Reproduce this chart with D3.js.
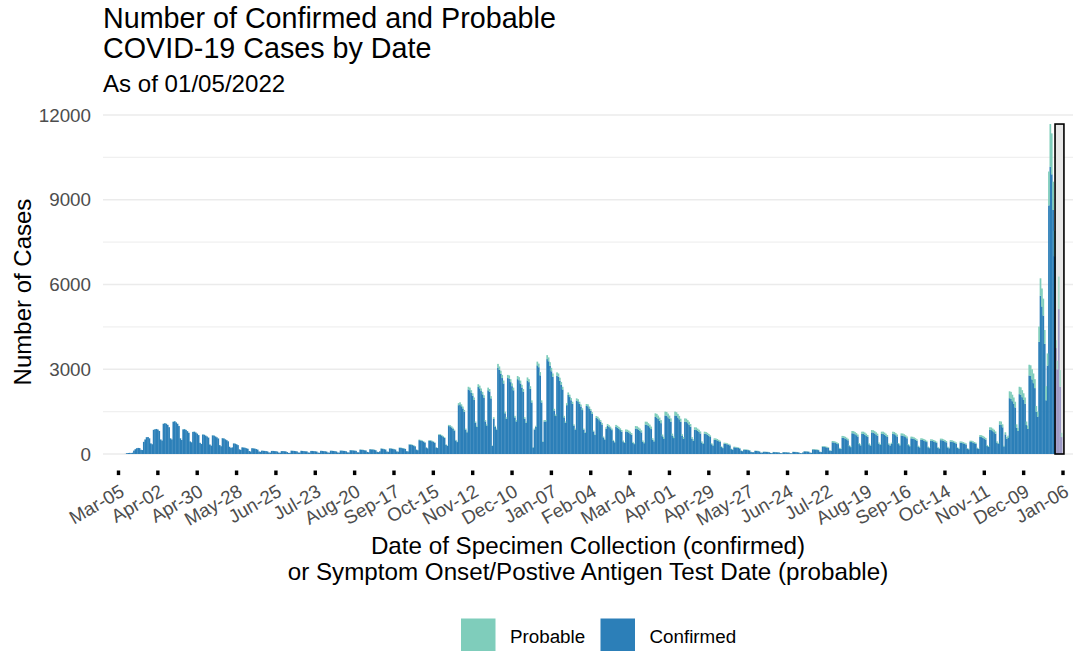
<!DOCTYPE html>
<html><head><meta charset="utf-8">
<script src="https://cdn.jsdelivr.net/npm/d3@7"></script>
<style>body{margin:0;background:#fff}svg{display:block}text{font-family:"Liberation Sans",Arial,Helvetica,sans-serif}</style>
</head><body><svg id="chart" width="1078" height="651"></svg>
<script>
// ---------- DATA ----------
const startDate = "2020-03-05"; // first day of the daily series (Thursday)
// daily confirmed cases, listed in Monday-start weeks (first line: Thu Mar 5 - Sun Mar 8, 2020)
const confirmed = [
0,0,0,0,
0,5,30,35,40,30,45,
120,170,205,215,210,150,140,
430,515,595,600,555,375,345,
855,875,885,865,815,515,475,
1070,1090,1070,1030,950,555,515,
1140,1160,1120,1070,990,555,495,
870,880,850,810,750,445,415,
780,790,760,720,670,395,355,
690,680,650,620,580,335,295,
660,650,620,590,550,315,275,
560,550,520,490,450,255,215,
235,375,365,345,315,165,145,
235,230,220,205,185,105,88,
205,200,190,175,155,88,78,
118,113,108,103,93,54,49,
108,108,103,98,88,49,44,
103,103,98,93,68,39,39,
117,112,107,102,92,53,48,
112,107,102,97,92,53,48,
107,107,102,97,87,48,43,
112,107,102,97,87,53,48,
116,111,106,101,91,53,48,
121,116,111,106,96,58,53,
135,130,125,120,110,62,57,
154,149,144,134,125,72,62,
168,163,158,149,134,77,67,
96,192,182,172,158,86,77,
197,192,182,172,158,91,81,
221,216,206,197,177,101,91,
336,331,317,297,273,154,134,
490,480,461,437,403,230,202,
470,475,451,432,394,230,211,
672,672,643,614,566,326,288,
989,979,941,893,826,480,422,
1728,1757,1690,1613,1498,864,768,
2285,2256,2170,2064,1920,1104,960,
2371,2323,2227,2112,1997,1152,1008,
2256,2208,1968,288,1248,960,864,
3062,2976,2832,2688,2496,1440,1248,
2688,2669,2544,2400,2256,1296,1152,
2650,2611,2496,2352,2208,1248,1104,
2602,2544,2304,1824,230,864,960,
3139,3072,2784,1824,432,1152,1152,
3360,3283,3120,2928,2736,1536,1344,
2774,2736,2592,2448,2285,1296,1104,
1728,2093,2016,1901,1776,1008,864,
1891,1862,1776,1680,1555,864,749,
1699,1690,1613,1526,1421,797,672,
1278,1254,1197,1140,1045,589,513,
893,996,959,912,846,470,414,
958,930,893,846,791,446,391,
800,791,764,727,681,396,350,
901,892,855,819,764,437,382,
1042,1037,992,946,883,510,446,
1310,1292,1238,1174,1092,628,546,
1365,1356,1301,1238,1147,655,564,
1365,1347,1292,1229,1138,637,546,
1147,1138,1092,1037,965,546,473,
860,855,819,783,728,410,355,
719,710,683,646,601,346,300,
505,501,482,455,428,246,209,
364,359,346,328,305,173,150,
237,232,223,214,196,114,100,
150,150,146,137,127,73,64,
64,109,107,102,91,50,46,
77,75,73,69,64,36,32,
68,66,64,60,55,32,27,
64,64,60,56,53,29,25,
73,71,68,66,55,32,27,
55,95,91,87,82,47,41,
161,159,153,146,137,77,68,
255,252,243,230,216,122,108,
414,410,396,374,351,198,176,
576,572,549,522,486,279,243,
734,729,702,666,621,351,306,
711,711,684,648,603,342,297,
765,756,729,693,648,369,320,
711,711,684,648,603,342,297,
360,711,702,666,621,351,306,
657,653,630,599,558,315,275,
554,549,531,504,468,266,234,
500,495,477,455,423,239,207,
468,464,446,423,396,225,194,
491,486,468,446,414,234,203,
441,437,419,396,369,212,185,
401,396,378,360,338,189,167,
423,423,405,383,360,203,176,
603,599,576,549,513,288,252,
851,846,810,774,720,405,356,
1044,1035,945,270,693,540,585,
1976,1958,1869,1780,1647,935,819,
2118,2100,2011,1914,1780,1024,890,
2781,2763,2640,2508,2332,1496,1320,
3970,5600,5220,4900,3900,1900,3130,
8800,10170,9900,8640,7000,3750,3000,
5130,2380,600
];
const probable = [
0,0,0,0,
0,0,0,0,0,0,0,
0,0,1,1,1,0,0,
1,2,2,2,2,1,1,
3,3,3,3,3,2,2,
5,5,5,5,4,3,3,
6,6,6,5,5,3,3,
6,6,6,5,5,3,3,
6,6,6,5,5,3,3,
6,6,6,5,5,3,3,
6,6,6,5,5,3,3,
5,5,5,5,4,3,2,
3,4,4,4,3,2,2,
3,3,3,3,3,2,1,
3,3,3,3,2,1,1,
2,2,2,2,2,1,1,
2,2,2,2,2,1,1,
2,2,2,2,1,1,1,
3,3,3,3,3,2,2,
3,3,3,3,3,2,2,
3,3,3,3,3,2,2,
3,3,3,3,3,2,2,
4,4,4,4,4,2,2,
4,4,4,4,4,2,2,
5,5,5,5,5,3,3,
6,6,6,6,5,3,3,
7,7,7,6,6,3,3,
4,8,8,8,7,4,3,
8,8,8,8,7,4,4,
9,9,9,8,8,4,4,
14,14,13,13,12,6,6,
20,20,19,18,17,10,8,
20,20,19,18,16,10,9,
28,28,27,26,24,14,12,
41,41,39,37,34,20,18,
72,73,70,67,62,36,32,
95,94,90,86,80,46,40,
99,97,93,88,83,48,42,
94,92,82,12,52,40,36,
128,124,118,112,104,60,52,
112,111,106,100,94,54,48,
110,109,104,98,92,52,46,
108,106,96,76,10,36,40,
131,128,116,76,18,48,48,
140,137,130,122,114,64,56,
116,114,108,102,95,54,46,
72,87,84,79,74,42,36,
79,78,74,70,65,36,31,
71,70,67,64,59,33,28,
67,66,63,60,55,31,27,
57,64,61,58,54,30,26,
72,70,67,64,59,34,29,
70,69,66,63,59,34,30,
89,88,85,81,76,43,38,
103,103,98,94,87,50,44,
130,128,122,116,108,62,54,
135,134,129,122,113,65,56,
135,133,128,121,112,63,54,
113,112,108,103,95,54,47,
85,85,81,77,72,40,35,
71,70,67,64,59,34,30,
50,49,48,45,42,24,21,
36,36,34,32,30,17,15,
23,23,22,21,19,11,10,
15,15,14,13,13,7,6,
6,11,11,10,9,5,4,
8,7,7,7,6,4,3,
7,6,6,6,5,3,3,
6,6,6,6,5,3,3,
7,7,7,6,5,3,3,
5,10,9,9,8,5,4,
16,16,15,14,13,8,7,
28,28,27,25,24,13,12,
46,45,44,41,39,22,19,
64,63,61,58,54,31,27,
81,81,78,74,69,39,34,
79,79,76,72,67,38,33,
85,84,81,77,72,41,35,
79,79,76,72,67,38,33,
40,79,78,74,69,39,34,
73,72,70,66,62,35,30,
61,61,59,56,52,29,26,
55,55,53,50,47,26,23,
52,51,49,47,44,25,21,
54,54,52,49,46,26,22,
49,48,46,44,41,23,20,
44,44,42,40,37,21,18,
47,47,45,42,40,22,19,
67,66,64,61,57,32,28,
94,94,90,86,80,45,39,
116,115,105,30,77,60,65,
244,242,231,220,203,115,101,
262,260,249,236,220,126,110,
379,377,360,342,318,204,180,
540,620,640,600,490,500,430,
1200,1510,1450,1000,900,280,300,
1150,590,150
];
const seriesKeys = ["Confirmed", "Probable"];
const legendLabels = ["Probable", "Confirmed"];
const xTickLabels = ["Mar-05","Apr-02","Apr-30","May-28","Jun-25","Jul-23","Aug-20","Sep-17","Oct-15","Nov-12","Dec-10","Jan-07","Feb-04","Mar-04","Apr-01","Apr-29","May-27","Jun-24","Jul-22","Aug-19","Sep-16","Oct-14","Nov-11","Dec-09","Jan-06"];
const xTickStepDays = 28;
const yTicks = [0, 3000, 6000, 9000, 12000];
const yMinorTicks = [1500, 4500, 7500, 10500];
const incompleteStart = "2022-01-01";  // highlighted (incomplete) period
const incompleteEnd = "2022-01-05";

// ---------- STYLE ----------
const colors = {Confirmed: "#2c7fb8", Probable: "#7fcdbb"};
const colorsIncomplete = {Confirmed: "#9d9ac6", Probable: "#a9dccb"};

const svg = d3.select("#chart");
const parse = d3.utcParse("%Y-%m-%d");
const t0 = parse(startDate);
const rows = confirmed.map((c, i) => ({date: d3.utcDay.offset(t0, i), Confirmed: c, Probable: probable[i]}));

const panel = {left: 103, right: 1073, top: 115, bottom: 471};
const x = d3.scaleUtc()
  .domain([t0, d3.utcDay.offset(t0, xTickStepDays * (xTickLabels.length - 1))])
  .range([118.5, 1063]);
const y = d3.scaleLinear().domain([0, 12000]).range([454, 115]);

// grid
svg.append("g").selectAll("line").data(yMinorTicks).join("line")
  .attr("x1", panel.left).attr("x2", panel.right)
  .attr("y1", d => y(d)).attr("y2", d => y(d))
  .attr("stroke", "#f0f0f0").attr("stroke-width", 1.1);
svg.append("g").selectAll("line").data(yTicks).join("line")
  .attr("x1", panel.left).attr("x2", panel.right)
  .attr("y1", d => y(d)).attr("y2", d => y(d))
  .attr("stroke", "#ebebeb").attr("stroke-width", 1.3);

// incomplete box background
const bStart = d3.utcHour.offset(parse(incompleteStart), -16);
const bEnd = d3.utcHour.offset(parse(incompleteEnd), 40);
const maxTotal = d3.max(rows, r => r.Confirmed + r.Probable);
svg.append("rect")
  .attr("x", x(bStart)).attr("width", x(bEnd) - x(bStart))
  .attr("y", y(maxTotal)).attr("height", y(0) - y(maxTotal))
  .attr("fill", "#e8e8e8");

// bars
const stack = d3.stack().keys(seriesKeys)(rows);
const inBox = d => d.data.date >= parse(incompleteStart);
svg.append("g").selectAll("g").data(stack).join("g")
  .each(function(s) {
    d3.select(this).selectAll("rect").data(s.filter(d => d[1] > d[0])).join("rect")
      .attr("x", d => x(d3.utcHour.offset(d.data.date, -12)) - 0.15)
      .attr("width", d => x(d3.utcHour.offset(d.data.date, 12)) - x(d3.utcHour.offset(d.data.date, -12)) + 0.3)
      .attr("y", d => y(d[1]))
      .attr("height", d => y(d[0]) - y(d[1]))
      .attr("fill", d => inBox(d) ? colorsIncomplete[s.key] : colors[s.key]);
  });

// box outline
svg.append("rect")
  .attr("x", x(bStart)).attr("width", x(bEnd) - x(bStart))
  .attr("y", y(maxTotal)).attr("height", y(0) - y(maxTotal))
  .attr("fill", "none").attr("stroke", "#000").attr("stroke-width", 1.6);

// x ticks
const tickDates = xTickLabels.map((l, k) => d3.utcDay.offset(t0, xTickStepDays * k));
svg.append("g").selectAll("rect").data(tickDates).join("rect")
  .attr("x", d => x(d) - 1.7).attr("y", 470.5).attr("width", 3.4).attr("height", 4.6)
  .attr("fill", "#000");
svg.append("g").selectAll("text").data(tickDates).join("text")
  .attr("transform", d => `translate(${x(d) + 7},495) rotate(-30)`)
  .attr("text-anchor", "end").attr("font-size", 18.8).attr("fill", "#4d4d4d")
  .text((d, k) => xTickLabels[k]);

// y tick labels
svg.append("g").selectAll("text").data(yTicks).join("text")
  .attr("x", 91).attr("y", d => y(d) + 6.6)
  .attr("text-anchor", "end").attr("font-size", 18.8).attr("fill", "#4d4d4d")
  .text(d => d);

// titles
svg.append("text").attr("x", 103).attr("y", 28).attr("font-size", 28.7).attr("fill", "#000")
  .text("Number of Confirmed and Probable");
svg.append("text").attr("x", 103).attr("y", 58).attr("font-size", 28.7).attr("fill", "#000")
  .text("COVID-19 Cases by Date");
svg.append("text").attr("x", 103).attr("y", 92).attr("font-size", 24.1).attr("fill", "#000")
  .text("As of 01/05/2022");
svg.append("text").attr("transform", "translate(31,292) rotate(-90)")
  .attr("text-anchor", "middle").attr("font-size", 24).attr("fill", "#000")
  .text("Number of Cases");
const cx = (panel.left + panel.right) / 2;
svg.append("text").attr("x", cx).attr("y", 554).attr("text-anchor", "middle")
  .attr("font-size", 24.2).attr("fill", "#000").text("Date of Specimen Collection (confirmed)");
svg.append("text").attr("x", cx).attr("y", 580).attr("text-anchor", "middle")
  .attr("font-size", 24.2).attr("fill", "#000").text("or Symptom Onset/Postive Antigen Test Date (probable)");

// legend
const legendX = [461, 600.5];
const lg = svg.append("g").selectAll("g").data(legendLabels).join("g")
  .attr("transform", (d, i) => `translate(${legendX[i]},618.5)`);
lg.append("rect").attr("width", 34.5).attr("height", 34).attr("fill", d => colors[d]);
lg.append("text").attr("x", 49).attr("y", 24.7).attr("font-size", 18.8).attr("fill", "#000").text(d => d);
</script></body></html>
